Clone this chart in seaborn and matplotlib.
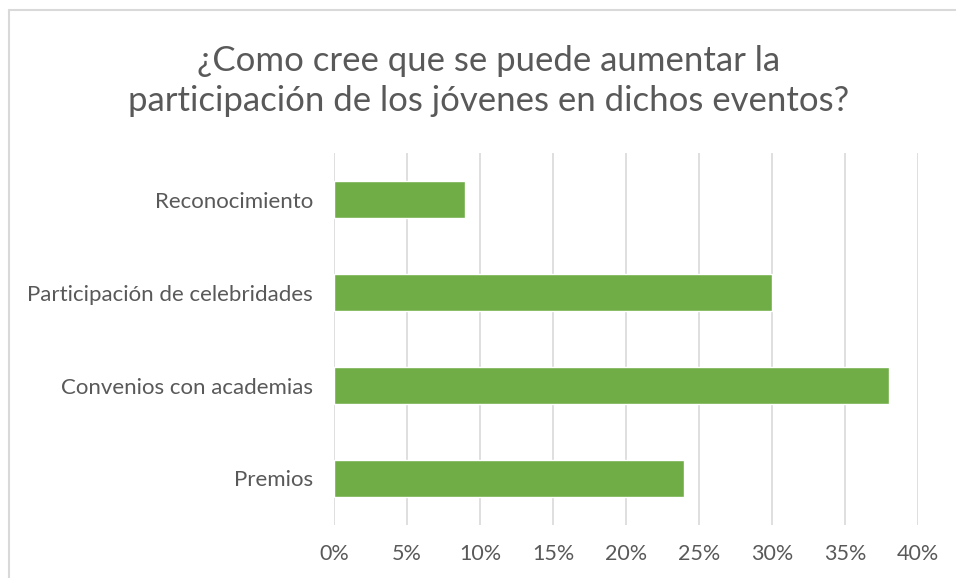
import matplotlib
matplotlib.use("Agg")
import matplotlib.pyplot as plt
import seaborn as sns
import pandas as pd
from matplotlib.ticker import PercentFormatter
from matplotlib.lines import Line2D

# datos
categorias = ["Reconocimiento", "Participación de celebridades",
              "Convenios con academias", "Premios"]
porcentajes = [9, 30, 38, 24]
ticks_x = [0, 5, 10, 15, 20, 25, 30, 35, 40]

titulo = "¿Como cree que se puede aumentar la\nparticipación de los jóvenes en dichos eventos?"

df = pd.DataFrame({"categoria": categorias, "valor": porcentajes})

sns.set_style("white")
plt.rcParams["font.family"] = ["Lato", "DejaVu Sans"]

gris = "#595959"
fig = plt.figure(figsize=(9.56, 5.78), dpi=100)
ax = fig.add_axes([334 / 956, 1 - 525 / 578, (918 - 334) / 956, (525 - 153) / 578])

sns.barplot(data=df, x="valor", y="categoria", color="#70AD47",
            width=0.39, saturation=1, ax=ax, zorder=3)

ax.set_xlim(0, 40)
ax.set_ylim(3.5, -0.5)
ax.set_xticks(ticks_x)
ax.xaxis.set_major_formatter(PercentFormatter(decimals=0))
ax.grid(axis="x", color="#D9D9D9", linewidth=1.2, zorder=0)
ax.grid(axis="y", visible=False)
for s in ax.spines.values():
    s.set_visible(False)
ax.tick_params(axis="both", length=0, colors=gris)
ax.tick_params(axis="y", pad=15, labelsize=16)
ax.tick_params(axis="x", pad=14, labelsize=15.5)
ax.set_xlabel("")
ax.set_ylabel("")

fig.text(489 / 956, 1 - 81 / 578, titulo, ha="center", va="center",
         fontsize=25, color=gris, linespacing=1.3)

# marco del area del grafico
fig.add_artist(Line2D([9 / 956, 9 / 956], [0, 1 - 9.5 / 578], transform=fig.transFigure,
                      color="#D9D9D9", linewidth=1.5))
fig.add_artist(Line2D([9 / 956, 1], [1 - 9.5 / 578, 1 - 9.5 / 578], transform=fig.transFigure,
                      color="#D9D9D9", linewidth=1.5))

fig.savefig("out.png", dpi=100)
